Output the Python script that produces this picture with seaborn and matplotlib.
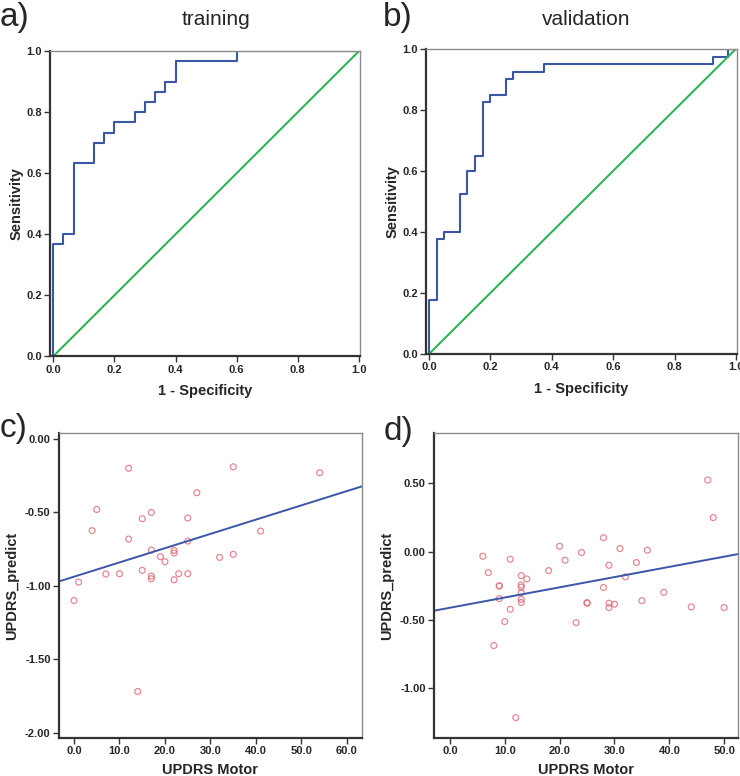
import numpy as np
import pandas as pd
import seaborn as sns
import matplotlib.pyplot as plt
from matplotlib.ticker import FormatStrFormatter

# ROC curves (vertices of the step curves)
train_fpr = [0, 0, 0.033, 0.033, 0.067, 0.067, 0.133, 0.133, 0.167, 0.167, 0.2, 0.2,
             0.267, 0.267, 0.3, 0.3, 0.333, 0.333, 0.367, 0.367, 0.4, 0.4, 0.6, 0.6, 1.0]
train_tpr = [0, 0.367, 0.367, 0.4, 0.4, 0.633, 0.633, 0.7, 0.7, 0.733, 0.733, 0.767,
             0.767, 0.8, 0.8, 0.833, 0.833, 0.867, 0.867, 0.9, 0.9, 0.967, 0.967, 1.0, 1.0]

valid_fpr = [0, 0, 0.025, 0.025, 0.05, 0.05, 0.1, 0.1, 0.125, 0.125, 0.15, 0.15, 0.175,
             0.175, 0.2, 0.2, 0.25, 0.25, 0.275, 0.275, 0.375, 0.375, 0.925, 0.925,
             0.975, 0.975, 1.0]
valid_tpr = [0, 0.175, 0.175, 0.375, 0.375, 0.4, 0.4, 0.525, 0.525, 0.6, 0.6, 0.65, 0.65,
             0.825, 0.825, 0.85, 0.85, 0.9, 0.9, 0.925, 0.925, 0.95, 0.95, 0.975,
             0.975, 1.0, 1.0]

# UPDRS scatter data
train_motor = [12, 35, 54, 27, 5, 17, 15, 25, 4, 41, 12, 25, 17, 22, 22, 19, 32, 35,
               20, 15, 7, 10, 17, 17, 23, 25, 22, 1, 0, 14]
train_pred = [-0.20, -0.19, -0.23, -0.366, -0.48, -0.50, -0.543, -0.538, -0.624, -0.627,
              -0.681, -0.695, -0.756, -0.758, -0.776, -0.801, -0.806, -0.785, -0.835,
              -0.894, -0.919, -0.917, -0.933, -0.951, -0.917, -0.917, -0.958, -0.974,
              -1.099, -1.718]

valid_motor = [47, 48, 28, 20, 31, 36, 24, 6, 11, 21, 34, 29, 18, 7, 13, 32, 14, 9, 9,
               13, 13, 28, 39, 13, 9, 13, 35, 13, 25, 25, 29, 30, 11, 29, 44, 50, 10,
               23, 8, 12]
valid_pred = [0.524, 0.249, 0.102, 0.039, 0.022, 0.01, -0.007, -0.034, -0.056, -0.063,
              -0.08, -0.10, -0.139, -0.154, -0.176, -0.185, -0.20, -0.251, -0.251,
              -0.244, -0.26, -0.263, -0.298, -0.30, -0.344, -0.349, -0.359, -0.373,
              -0.373, -0.378, -0.378, -0.385, -0.422, -0.41, -0.405, -0.41, -0.512,
              -0.52, -0.688, -1.215]

sns.set_style("white")
plt.rcParams['font.family'] = ['Liberation Sans', 'DejaVu Sans']

BLUE = "#3A57A7"
GREEN = "#22B24C"
RED = "#E06A75"

fig = plt.figure(figsize=(7.4, 7.76), dpi=100)
ax_a = fig.add_axes([0.0676, 0.541, 0.419, 0.393])
ax_b = fig.add_axes([0.5757, 0.544, 0.420, 0.393])
ax_c = fig.add_axes([0.0797, 0.049, 0.4095, 0.393])
ax_d = fig.add_axes([0.5865, 0.049, 0.411, 0.393])


def style_axes(ax):
    for side in ["top", "right"]:
        ax.spines[side].set_color("#8a8a8a")
        ax.spines[side].set_linewidth(1.0)
    for side in ["left", "bottom"]:
        ax.spines[side].set_color("#333333")
        ax.spines[side].set_linewidth(1.6)
    ax.tick_params(axis="both", direction="out", length=4, width=1, color="#333333",
                   labelsize=8, pad=2, bottom=True, left=True)
    for lab in ax.get_xticklabels() + ax.get_yticklabels():
        lab.set_fontweight("bold")


def roc_panel(ax, fpr, tpr, xlim):
    sns.lineplot(x=fpr, y=tpr, sort=False, estimator=None, color=BLUE, lw=1.5, ax=ax)
    sns.lineplot(x=[0, 1], y=[0, 1], sort=False, estimator=None, color=GREEN, lw=1.4, ax=ax)
    ax.set_xlim(*xlim)
    ax.set_ylim(0, 1)
    ax.set_xticks(np.arange(0, 1.01, 0.2))
    ax.set_yticks(np.arange(0, 1.01, 0.2))
    ax.xaxis.set_major_formatter(FormatStrFormatter("%.1f"))
    ax.yaxis.set_major_formatter(FormatStrFormatter("%.1f"))
    ax.set_xlabel("1 - Specificity", fontsize=10.5, fontweight="bold", labelpad=7)
    ax.set_ylabel("Sensitivity", fontsize=10.5, fontweight="bold", labelpad=2)
    style_axes(ax)


def scatter_panel(ax, x, y, xlim, ylim, yticks, xmax):
    df = pd.DataFrame({"motor": x, "pred": y})
    ax.set_xlim(*xlim)
    sns.regplot(data=df, x="motor", y="pred", ci=None, truncate=False, ax=ax,
                scatter_kws=dict(facecolors="none", edgecolors=RED, s=18, linewidths=0.9),
                line_kws=dict(color=BLUE, lw=1.4))
    ax.set_xlim(*xlim)
    ax.set_ylim(*ylim)
    ax.set_xticks(np.arange(0, xmax + 1, 10))
    ax.set_yticks(yticks)
    ax.xaxis.set_major_formatter(FormatStrFormatter("%.1f"))
    ax.yaxis.set_major_formatter(FormatStrFormatter("%.2f"))
    ax.set_xlabel("UPDRS Motor", fontsize=10.5, fontweight="bold", labelpad=5)
    ax.set_ylabel("UPDRS_predict", fontsize=10.5, fontweight="bold", labelpad=4)
    style_axes(ax)


roc_panel(ax_a, train_fpr, train_tpr, (-0.011, 1.004))
roc_panel(ax_b, valid_fpr, valid_tpr, (-0.01, 1.003))
scatter_panel(ax_c, train_motor, train_pred, (-3.3, 63.3), (-2.034, 0.04),
              [0.0, -0.5, -1.0, -1.5, -2.0], 60)
scatter_panel(ax_d, valid_motor, valid_pred, (-2.9, 52.55), (-1.364, 0.868),
              [0.5, 0.0, -0.5, -1.0], 50)

# panel letters and titles
fig.text(0.0, 0.978, "a)", fontsize=24, va="center", ha="left")
fig.text(0.517, 0.977, "b)", fontsize=24, va="center", ha="left")
fig.text(0.0, 0.448, "c)", fontsize=24, va="center", ha="left")
fig.text(0.519, 0.444, "d)", fontsize=24, va="center", ha="left")
fig.text(0.292, 0.975, "training", fontsize=15, ha="center", va="center")
fig.text(0.792, 0.975, "validation", fontsize=15, ha="center", va="center")

fig.savefig("out.png", dpi=100)
